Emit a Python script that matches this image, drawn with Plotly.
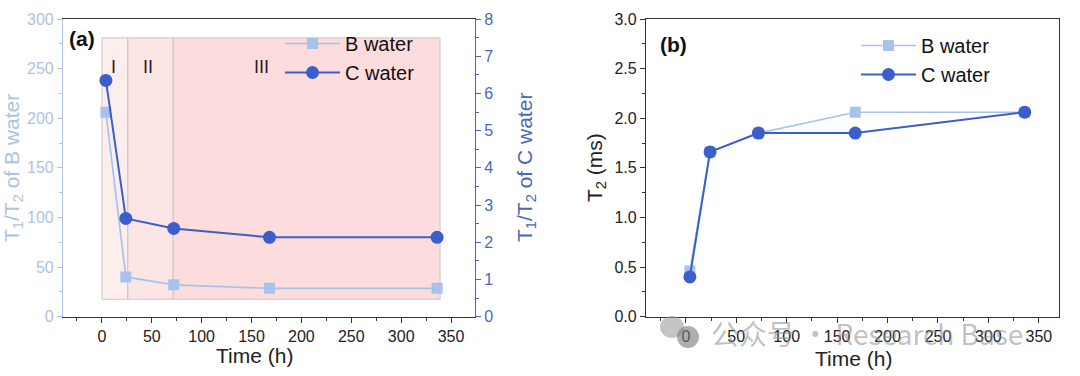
import plotly.graph_objects as go

time_h = [4, 24, 72, 168, 336]
ratio_b = [206, 40, 32, 28.5, 28.5]
ratio_c = [6.35, 2.64, 2.37, 2.13, 2.13]
t2_b = [0.46, 1.66, 1.85, 2.06, 2.06]
t2_c = [0.40, 1.66, 1.85, 1.85, 2.06]
stage_labels = ["I", "II", "III"]
stage_bounds = [0, 26, 71.5, 339]
stage_label_x = [11.5, 46, 160]

LB = "#a8c2ee"
DB = "#3a5fcd"
LBAX = "#b0c2e2"
DBAX = "#4a68b8"
FONT = "Arial, Liberation Sans, sans-serif"
W, H = 1080, 376
SQ, CI = 11, 13


def px_x(p):
    return p / W


def px_y(p):
    return 1 - p / H


fig = go.Figure()

fig.add_trace(go.Scatter(x=time_h, y=ratio_b, name="B water", mode="lines+markers",
                         line=dict(color=LB, width=1.7), marker=dict(symbol="square", size=SQ, color=LB),
                         xaxis="x", yaxis="y", legend="legend"))
fig.add_trace(go.Scatter(x=time_h, y=ratio_c, name="C water", mode="lines+markers",
                         line=dict(color=DB, width=2), marker=dict(symbol="circle", size=CI, color=DB),
                         xaxis="x", yaxis="y3", legend="legend"))
fig.add_trace(go.Scatter(x=time_h, y=t2_b, name="B water", mode="lines+markers",
                         line=dict(color=LB, width=1.7), marker=dict(symbol="square", size=SQ, color=LB),
                         xaxis="x2", yaxis="y2", legend="legend2"))
fig.add_trace(go.Scatter(x=time_h, y=t2_c, name="C water", mode="lines+markers",
                         line=dict(color=DB, width=2), marker=dict(symbol="circle", size=CI, color=DB),
                         xaxis="x2", yaxis="y2", legend="legend2"))

stage_fill = ["#fdeeee", "#fce5e5", "#fcdcdc"]
shapes = []
for i in range(3):
    shapes.append(dict(type="rect", xref="x", yref="y", x0=stage_bounds[i], x1=stage_bounds[i + 1],
                       y0=17.5, y1=281, fillcolor=stage_fill[i], line=dict(color="#cfc4c4", width=1),
                       layer="below"))
# watermark icon (two chat bubbles)
shapes.append(dict(type="circle", xref="paper", yref="paper", x0=px_x(660), x1=px_x(684),
                   y0=px_y(338), y1=px_y(316), fillcolor="rgba(150,150,150,0.55)", line=dict(width=0)))
shapes.append(dict(type="circle", xref="paper", yref="paper", x0=px_x(677), x1=px_x(699),
                   y0=px_y(348), y1=px_y(326), fillcolor="rgba(120,120,120,0.6)", line=dict(width=0)))

annotations = []
for lab, lx in zip(stage_labels, stage_label_x):
    annotations.append(dict(x=lx, y=252, xref="x", yref="y", text=lab, showarrow=False,
                            font=dict(family=FONT, size=18, color="#222")))


def pa(x, y, text, size, color, angle=0, family=FONT):
    return dict(x=px_x(x), y=px_y(y), xref="paper", yref="paper", text=text, showarrow=False,
                textangle=angle, xanchor="center", yanchor="middle",
                font=dict(family=family, size=size, color=color))


annotations += [
    pa(82, 38, "<b>(a)</b>", 21, "#111"),
    pa(673, 44, "<b>(b)</b>", 21, "#111"),
    pa(13, 168, "T<sub>1</sub>/T<sub>2</sub> of B water", 21, LBAX, -90),
    pa(526, 168, "T<sub>1</sub>/T<sub>2</sub> of C water", 21, DBAX, -90),
    pa(596, 168, "T<sub>2</sub> (ms)", 21, "#222", -90),
    pa(254, 355, "Time (h)", 21, "#222"),
    pa(853, 358, "Time (h)", 21, "#222"),
    pa(867, 333, "公众号 · Research Base", 28, "rgba(140,140,140,0.55)",
       family="Noto Sans CJK SC, " + FONT),
]

ydom = [px_y(316.6), px_y(19)]
TF = 16

fig.update_layout(
    width=W, height=H, margin=dict(l=0, r=0, t=0, b=0, autoexpand=False),
    plot_bgcolor="white", paper_bgcolor="white", showlegend=True,
    shapes=shapes, annotations=annotations,
    xaxis=dict(domain=[px_x(63), px_x(475)], range=[-39, 374], tick0=0, dtick=50,
               linecolor="#333", linewidth=1.2, mirror=True, anchor="y",
               ticks="outside", ticklen=5, tickcolor="#333", showgrid=False, zeroline=False,
               minor=dict(dtick=25, ticks="outside", ticklen=3, tickcolor="#333"),
               tickfont=dict(family=FONT, size=TF, color="#222")),
    yaxis=dict(domain=ydom, range=[0, 300], dtick=50, linecolor=LBAX, linewidth=1.2, anchor="x",
               ticks="outside", ticklen=5, tickcolor=LBAX, showgrid=False, zeroline=False,
               minor=dict(dtick=25, ticks="outside", ticklen=3, tickcolor=LBAX),
               tickfont=dict(family=FONT, size=TF, color=LBAX)),
    yaxis3=dict(range=[0, 8], dtick=1, overlaying="y", side="right", anchor="x",
                linecolor=DBAX, linewidth=1.2, ticks="outside", ticklen=5, tickcolor=DBAX,
                showgrid=False, zeroline=False,
                minor=dict(dtick=0.5, ticks="outside", ticklen=3, tickcolor=DBAX),
                tickfont=dict(family=FONT, size=TF, color=DBAX)),
    xaxis2=dict(domain=[px_x(646), px_x(1059)], range=[-39.5, 370], tick0=0, dtick=50,
                linecolor="#333", linewidth=1.2, mirror=True, anchor="y2",
                ticks="outside", ticklen=5, tickcolor="#333", showgrid=False, zeroline=False,
                minor=dict(dtick=25, ticks="outside", ticklen=3, tickcolor="#333"),
                tickfont=dict(family=FONT, size=TF, color="#222")),
    yaxis2=dict(domain=ydom, range=[0, 3.0], dtick=0.5, tickformat=".1f", anchor="x2",
                linecolor="#333", linewidth=1.2, mirror=True,
                ticks="outside", ticklen=5, tickcolor="#333", showgrid=False, zeroline=False,
                minor=dict(dtick=0.25, ticks="outside", ticklen=3, tickcolor="#333"),
                tickfont=dict(family=FONT, size=TF, color="#222")),
    legend=dict(x=px_x(280), y=px_y(24), xanchor="left", yanchor="top", bgcolor="rgba(0,0,0,0)",
                font=dict(family=FONT, size=20, color="#111"), tracegroupgap=0, itemwidth=55),
    legend2=dict(x=px_x(856), y=px_y(26), xanchor="left", yanchor="top", bgcolor="rgba(0,0,0,0)",
                 font=dict(family=FONT, size=20, color="#111"), tracegroupgap=0, itemwidth=55),
)

fig.write_html("out.html", config={"displayModeBar": False},
               post_script="document.body.style.margin='0';")
